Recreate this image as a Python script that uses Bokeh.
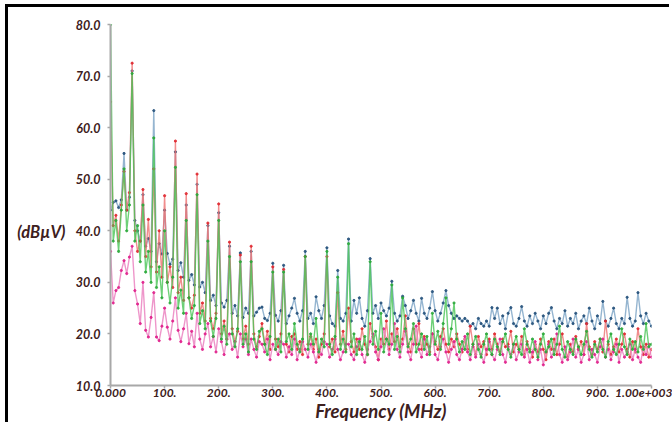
from bokeh.plotting import figure
from bokeh.models import Range1d, LinearAxis, FixedTicker
from bokeh.embed import file_html
from bokeh.resources import INLINE

# Frequency grid (MHz), one sample every 5 MHz
freq = list(range(0, 1001, 5))

# Series values (dBuV)
blue = [
    44, 45.5, 45.8, 44.5, 46, 55, 44, 46.5, 71, 42, 40, 38, 47, 37, 38.5, 36, 63.3, 34, 37.5, 35.5,
    44, 35.6, 33.5, 34.5, 55.3, 32.3, 33.8, 31, 45, 30.4, 31.5, 29.5, 49, 29.1, 30, 28, 41, 26.5, 27.5, 25.5,
    43.5, 26, 25.2, 26.5, 37, 24, 25.5, 23.5, 35.7, 23.2, 25, 24, 36, 23.5, 24.2, 25, 25.2, 23, 22.6, 24,
    33.7, 23.6, 22.5, 24.5, 33.3, 22, 23.5, 25, 26.9, 24, 22.5, 24.5, 36, 23, 24, 22, 27.2, 24.5, 23, 25.5,
    36.7, 23.5, 22, 21.5, 32.3, 23, 22.5, 24, 38.4, 22.5, 26.5, 24, 27, 23, 21.5, 24.5, 34.6, 24, 25.5, 23,
    26, 24.5, 23.5, 25, 30.2, 24, 22.5, 23.5, 27.3, 25.5, 23, 24.5, 26.5, 24, 22.5, 26.9, 24, 23, 25, 28.2,
    24.5, 22.5, 24, 26, 28.4, 25.5, 24, 23, 23.5, 23, 22.5, 23, 22.5, 21.5, 22, 21, 23, 22, 21.5, 22.5,
    21.5, 25.1, 23, 25, 22, 23.5, 21, 24, 25.1, 22, 21.5, 23, 25.3, 22.5, 21.5, 23.5, 22, 24, 22.5, 21,
    23.5, 22, 24, 25.1, 22.5, 21, 23, 22, 24.5, 21.5, 23, 22, 24, 21, 22.5, 23.5, 22, 25, 22.5, 21,
    23.5, 22, 26.3, 22.5, 21.5, 23, 25, 22, 21, 23, 22, 27.1, 23, 21.5, 22.5, 28, 23.5, 22, 24, 22.5,
    21.5,
]
red = [
    65, 41, 43, 38, 45, 51.5, 44, 47.4, 72.5, 40, 36, 38, 48, 35, 42.2, 33, 52, 32, 40, 31,
    46.8, 30, 33, 29, 57.4, 28, 31, 26.5, 47.2, 27, 25, 27.5, 51, 24, 26, 22.5, 41.5, 23, 21, 24,
    45.2, 20, 22.5, 19, 37.8, 21, 18.5, 20.5, 35.3, 19, 21.5, 18, 37, 20, 17.5, 19.5, 22, 18, 20.5, 17,
    33, 19, 17.5, 20, 32.5, 18, 16.5, 19.5, 20, 17, 18.5, 16, 35, 18, 19.5, 17, 19, 15.5, 18, 20,
    35, 17.5, 19, 16.5, 28, 18, 20.5, 17, 25, 18.5, 16.5, 19, 17, 21, 18, 16, 22, 19.5, 17.5, 15,
    19, 18, 22.5, 17, 20, 18.5, 21, 17.5, 19, 23.5, 18, 16.5, 21, 18, 22, 17, 19.5, 18, 16.5, 20,
    18.5, 17, 19.5, 21, 18, 16.5, 19, 17.5, 20, 18, 16.5, 19, 17, 21.5, 18, 16, 19.5, 17.5, 18.5, 16,
    19, 17, 20, 18, 16.5, 19, 17.5, 18, 20.5, 16.5, 18, 17, 19.5, 16, 18.5, 17, 15.5, 18, 16.5, 19,
    17, 15, 18.5, 17, 19, 16, 18, 20, 17, 15.5, 18, 16.5, 19.5, 17, 18.5, 16, 22, 17.5, 16, 18.5,
    17, 19, 16.5, 22.5, 18, 16, 17.5, 19, 16.5, 18, 20, 17, 15.5, 18.5, 16.5, 21, 17.5, 16, 18, 15.5,
    17,
]
pink = [
    36, 26, 28.4, 29, 32.3, 34.2, 31.7, 34.9, 37, 28.4, 25.8, 22, 30, 20.7, 19.4, 23.2, 28, 19.4, 18.7, 21.5,
    25, 21.3, 19, 22.5, 27, 20.7, 18.5, 21, 24, 18.1, 20.5, 17.5, 24, 19, 17, 20, 22, 17.5, 19.5, 16.5,
    21, 18.5, 16, 19, 20, 17, 18.5, 15.5, 20, 17.5, 19, 16, 19, 17, 15.5, 18.5, 18, 16.5, 19, 15,
    18, 17, 16, 18.5, 18, 15.5, 17.5, 16, 19, 15, 17, 18.5, 17, 15.5, 18, 16.5, 14.5, 17, 16, 18.5,
    18, 15.5, 17, 19, 17, 15, 16.5, 18, 18, 16, 15, 17.5, 19, 16, 14.5, 17, 18.5, 20, 16.5, 15,
    17.5, 21, 19, 16, 18, 22, 17, 15.5, 18, 20.5, 16.5, 15, 18, 21.5, 17, 15.5, 19, 16, 17.5, 20,
    16, 15, 17.5, 19, 16.5, 14.5, 17, 18.5, 16, 15, 17, 19.5, 16.5, 15, 17.5, 15.5, 18, 16, 14.5, 17,
    18.5, 16, 15, 17, 19, 16, 14.5, 17.5, 16, 18, 15, 16.5, 18, 15.5, 17, 14.5, 16.5, 18.5, 15, 17,
    14, 16.5, 18, 15.5, 17, 20, 16, 14.5, 17.5, 15, 16.5, 19, 15.5, 17, 14.5, 16, 18.5, 15, 17, 16,
    14.5, 17.5, 19, 15.5, 17, 15, 16.5, 18, 14.5, 17, 15.5, 16.5, 18, 15, 17, 15.5, 14.5, 17.5, 16, 18,
    15.5,
]
green = [
    80, 38, 42, 36, 44, 52, 40, 45, 70.5, 38, 41, 34, 45, 32, 36, 30, 58, 29, 33, 27,
    40, 30, 26, 31, 52.3, 25, 28.5, 24, 42, 27, 23, 25.5, 47, 22, 24.5, 21, 38, 22.5, 19.5, 23,
    42, 19, 21.5, 18, 35, 20, 17.5, 21, 34, 18, 20, 16.5, 34, 19, 17, 20.5, 21, 18, 16, 19.5,
    32, 17, 19, 16.5, 32, 18.5, 20, 17, 22, 18, 16.5, 19, 35, 17, 20, 18, 23, 16.5, 19, 17.5,
    36, 18, 16, 19.5, 31, 17, 19, 16.5, 37.5, 17.5, 20, 16, 18.5, 17, 19.5, 16, 34, 18, 20.5, 17,
    24, 16.5, 19, 18, 29.5, 17, 19.5, 16.5, 27, 21, 17.5, 19, 22, 16.5, 18, 20, 17, 19.5, 16, 24,
    18, 20.5, 17, 22, 27, 18, 21, 26, 19, 16.5, 18.5, 17, 20, 16, 18, 19.5, 17, 15.5, 18, 20,
    17, 16, 19, 17.5, 16, 18.5, 20, 17, 15.5, 18, 19.5, 17, 16, 21, 18, 16.5, 19, 17, 15.5, 18,
    20, 16.5, 17.5, 19, 16, 18, 21.5, 17, 15.5, 18.5, 17, 16, 19, 17.5, 16, 18, 20.5, 17, 15.5, 18,
    16.5, 19, 17, 15.5, 18.5, 20, 17, 16, 18, 21, 17.5, 16, 19, 17, 18.5, 16.5, 19.5, 17, 22, 17.5,
    18,
]

x_ticks = [0, 100, 200, 300, 400, 500, 600, 700, 800, 900, 1000]
x_tick_labels = ["0.000", "100.", "200.", "300.", "400.", "500.", "600.", "700.", "800.", "900.", "1.00e+003"]
y_ticks = [10, 20, 30, 40, 50, 60, 70, 80]
y_tick_labels = ["10.0", "20.0", "30.0", "40.0", "50.0", "60.0", "70.0", "80.0"]
y_unit_pos = 39.7
y_unit_label = "(dBµV)"
x_title = "Frequency (MHz)"

FONT = "Lato"
LABEL_COLOR = "#3d2020"
AXIS_COLOR = "#a8a8a8"

p = figure(width=664, height=418, x_range=Range1d(0, 1000), y_range=Range1d(10, 80),
           output_backend="svg", toolbar_location=None,
           min_border_left=102, min_border_right=21, min_border_top=17, min_border_bottom=40)
p.styles = {"margin-left": "8px", "margin-top": "7px",
            "box-shadow": "-3px -3px 0px 0px black"}
p.outline_line_color = None
p.xgrid.grid_line_color = None
p.ygrid.grid_line_color = None
p.background_fill_color = "white"
p.border_fill_color = "white"

for ax in (p.xaxis[0], p.yaxis[0]):
    ax.axis_line_color = AXIS_COLOR
    ax.axis_line_width = 2
    ax.major_tick_line_color = AXIS_COLOR
    ax.major_tick_line_width = 1.5
    ax.major_tick_out = 3
    ax.major_tick_in = 0
    ax.minor_tick_line_color = None
    ax.major_label_text_font = FONT
    ax.major_label_text_font_style = "bold italic"
    ax.major_label_text_font_size = "12px"
    ax.major_label_text_color = LABEL_COLOR

p.xaxis.ticker = FixedTicker(ticks=x_ticks)
p.xaxis.major_label_overrides = {t: l for t, l in zip(x_ticks, x_tick_labels)}
p.xaxis.major_label_standoff = 0
p.xaxis.axis_label = x_title
p.xaxis.axis_label_text_font = FONT
p.xaxis.axis_label_text_font_style = "bold italic"
p.xaxis.axis_label_text_font_size = "18.5px"
p.xaxis.axis_label_text_color = LABEL_COLOR
p.xaxis.axis_label_standoff = 0

p.yaxis.ticker = FixedTicker(ticks=y_ticks)
p.yaxis.major_label_overrides = {t: l for t, l in zip(y_ticks, y_tick_labels)}
p.yaxis.major_label_text_font_size = "12.5px"
p.yaxis.major_label_standoff = 7

# unit label of the value axis, placed beside the 40 dB region like the original
unit_axis = LinearAxis(ticker=FixedTicker(ticks=[y_unit_pos]),
                       major_label_overrides={y_unit_pos: y_unit_label})
unit_axis.axis_line_color = None
unit_axis.major_tick_line_color = None
unit_axis.minor_tick_line_color = None
unit_axis.major_tick_out = 0
unit_axis.major_label_standoff = 7
unit_axis.major_label_text_font = FONT
unit_axis.major_label_text_font_style = "bold italic"
unit_axis.major_label_text_font_size = "16.5px"
unit_axis.major_label_text_color = LABEL_COLOR
p.add_layout(unit_axis, "left")

series = [
    (blue, "#7aa3c4", "#24507a"),
    (red, "#ee7070", "#e02830"),
    (pink, "#ea7cbd", "#e0208c"),
    (green, "#48c455", "#2aa83a"),
]
for vals, lc, mc in series:
    p.line(freq, vals, line_color=lc, line_width=1.4, line_alpha=0.8)
    p.scatter(freq, vals, size=2.2, fill_color=mc, line_color=mc, alpha=0.9)

open("out.html", "w").write(file_html(p, INLINE))
